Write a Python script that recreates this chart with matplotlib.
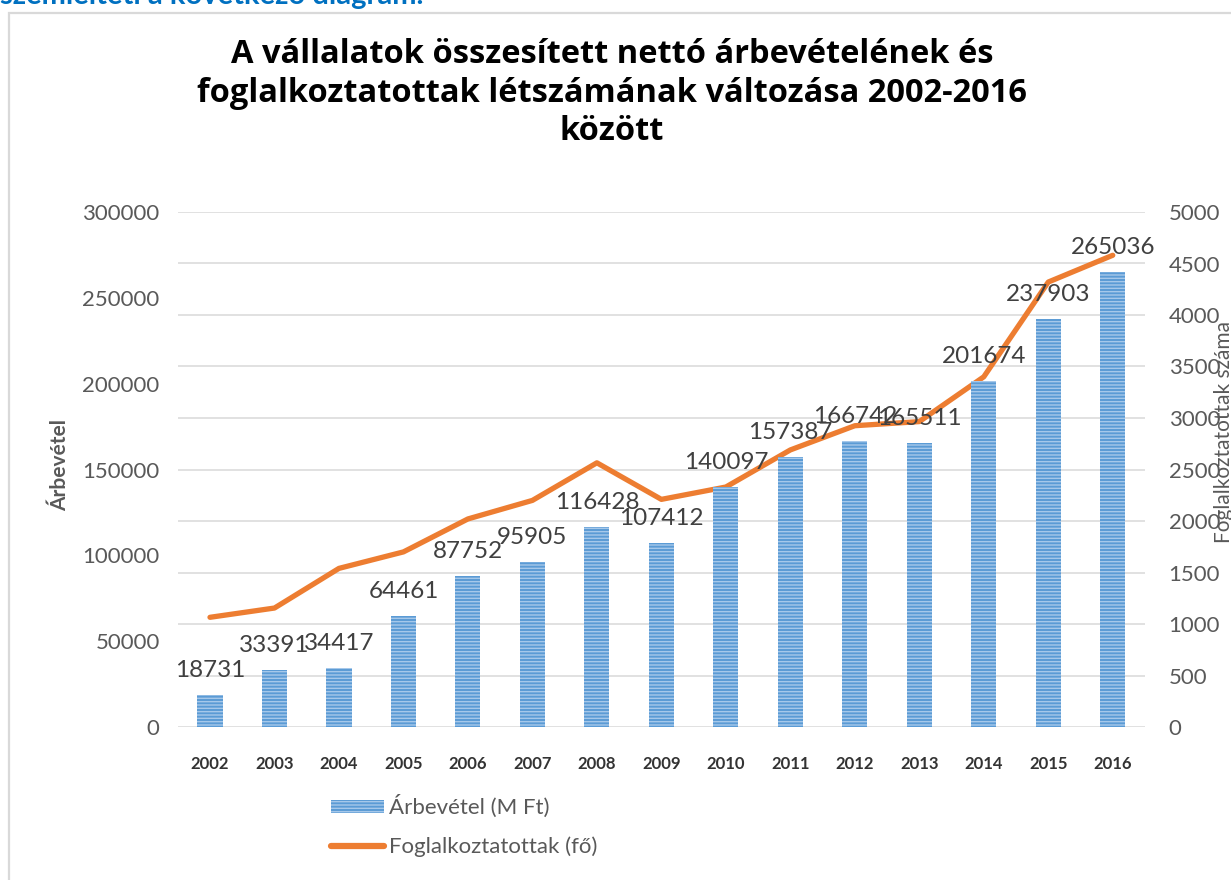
import matplotlib.pyplot as plt
from matplotlib.patches import Rectangle, Patch
from matplotlib.lines import Line2D

plt.rcParams['font.family'] = ['Lato', 'DejaVu Sans']
plt.rcParams['hatch.linewidth'] = 1.0

# data
years = ['2002', '2003', '2004', '2005', '2006', '2007', '2008', '2009',
         '2010', '2011', '2012', '2013', '2014', '2015', '2016']
revenue = [18731, 33391, 34417, 64461, 87752, 95905, 116428, 107412,
           140097, 157387, 166742, 165511, 201674, 237903, 265036]
employees = [1065, 1155, 1540, 1700, 2020, 2200, 2565, 2210,
             2330, 2690, 2925, 2965, 3400, 4320, 4580]

title = ('A vállalatok összesített nettó árbevételének és\n'
         'foglalkoztatottak létszámának változása 2002-2016\n'
         'között')

W, H = 1231, 880
fig = plt.figure(figsize=(W / 100, H / 100), dpi=100)

# cut off line of the surrounding document and the chart frame
fig.text(0.0, 1 - 4 / H, 'szemlélteti a következő diagram.', color='#0070C0',
         fontsize=21, fontweight='bold', va='baseline', ha='left')
fig.patches.append(Rectangle((9 / W, -0.01), 1.2, 1 - 13 / H + 0.01,
                             transform=fig.transFigure, fill=False,
                             edgecolor='#d9d9d9', linewidth=1.6))

ax = fig.add_axes([177.75 / W, 1 - 727 / H, (1145 - 177.75) / W, (727 - 212) / H])
ax2 = ax.twinx()

bar_face = '#5B9BD5'
bar_hatch = '#a6c8ea'
x = list(range(len(years)))
ax.bar(x, revenue, width=0.39, color=bar_face, edgecolor=bar_hatch,
       linewidth=0, hatch='-----', zorder=2)
for xi, v in zip(x, revenue):
    ax.annotate(str(v), (xi, v), xytext=(0, 10), textcoords='offset points',
                ha='center', va='bottom', fontsize=17.5, color='#404040', zorder=5)

ax2.plot(x, employees, color='#ED7D31', linewidth=3.8, solid_capstyle='round',
         solid_joinstyle='round', zorder=3)

ax.set_ylim(0, 300000)
ax.set_yticks(range(0, 300001, 50000))
ax2.set_ylim(0, 5000)
ax2.set_yticks(range(0, 5001, 500))
ax.set_xlim(-0.5, len(years) - 0.5)
ax.set_xticks(x)
ax.set_xticklabels(years, fontsize=12, fontweight='bold', color='#404040')

# gridlines follow the secondary axis ticks
for t in range(0, 5001, 500):
    ax2.axhline(t, color='#d9d9d9', linewidth=1.1, zorder=0)
ax.set_zorder(ax2.get_zorder() + 1)
ax.patch.set_visible(False)

for a in (ax, ax2):
    for s in a.spines.values():
        s.set_visible(False)
    a.tick_params(length=0, labelsize=16, labelcolor='#595959')
ax.tick_params(axis='y', pad=13)
ax2.tick_params(axis='y', pad=17)
ax.tick_params(axis='x', pad=21, labelsize=12, labelcolor='#333333')

fig.text(60 / W, 1 - 465 / H, 'Árbevétel', rotation=90, ha='center', va='center',
         fontsize=15, fontweight='bold', color='#595959')
fig.text(1224 / W, 1 - 432 / H, 'Foglalkoztatottak száma', rotation=90,
         ha='center', va='center', fontsize=15, color='#595959')

fig.text(612 / W, 1 - 93 / H, title, ha='center', va='center', fontsize=23.5,
         fontweight='bold', color='black', linespacing=1.22,
         family=['Open Sans', 'DejaVu Sans'])

handles = [Patch(facecolor=bar_face, edgecolor=bar_hatch, linewidth=0, hatch='-----'),
           Line2D([0], [0], color='#ED7D31', linewidth=4.5, solid_capstyle='round')]
labels = ['Árbevétel (M Ft)', 'Foglalkoztatottak (fő)']
fig.legend(handles, labels, loc='upper left', bbox_to_anchor=(311 / W, 1 - 775 / H),
           frameon=False, fontsize=16, labelcolor='#595959', handlelength=2.4,
           handleheight=0.55, handletextpad=0.2, labelspacing=0.82)

fig.savefig('out.png', dpi=100)
